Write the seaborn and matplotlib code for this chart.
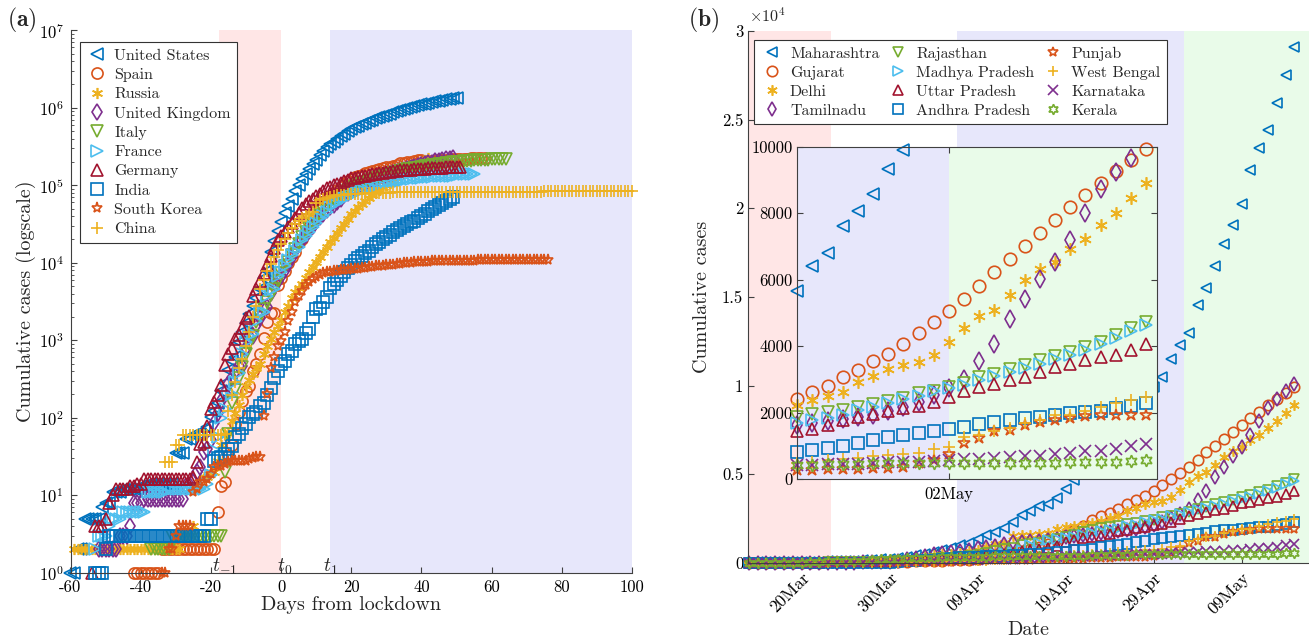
import matplotlib
matplotlib.use("Agg")
import matplotlib.pyplot as plt
import numpy as np
import pandas as pd
import seaborn as sns
from matplotlib.ticker import FuncFormatter, LogLocator, NullFormatter
import matplotlib.dates as mdates

# ---------------- panel (a): cumulative cases per country ----------------
countries = ["United States", "Spain", "Russia", "United Kingdom", "Italy",
             "France", "Germany", "India", "South Korea", "China"]
first_dates = ["2020-01-22", "2020-02-01", "2020-01-31", "2020-01-31", "2020-01-31",
               "2020-01-24", "2020-01-27", "2020-01-30", "2020-01-22", "2019-12-31"]
lockdown_dates = ["2020-03-22", "2020-03-14", "2020-03-30", "2020-03-23", "2020-03-08",
                  "2020-03-17", "2020-03-21", "2020-03-23", "2020-02-25", "2020-02-02"]

us_cases = [1, 1, 2, 2, 5, 5, 5, 5, 5, 7,
            8, 8, 11, 11, 11, 12, 12, 12, 12, 12, 13, 13, 14, 14, 14, 14, 14, 14, 14, 14,
            35, 35, 35, 53, 53, 59, 60, 62, 70,
            76, 101, 122, 153, 221, 278, 417, 537, 605, 959, 1281, 1663, 2179, 2727, 3499,
            4632, 6421, 7786, 13680, 19101, 25493, 33276, 43847, 53740, 65778, 83836,
            101657, 121465, 140909, 161831, 188172,
            213242, 243622, 275367, 308650, 336802, 366317, 397121, 428654, 462780, 496535,
            526396, 555313, 580619, 607670, 636350, 667592, 699706, 732197, 758809, 784326,
            811865, 840351, 869170, 905358, 938154, 965785, 988197, 1012582, 1039909, 1069424,
            1103461, 1132539, 1158040, 1180375, 1204351, 1229331, 1257023, 1283929, 1309550,
            1329260, 1347881]
spain_cases = [1, 1, 1, 1, 1, 1, 1, 1, 2, 2, 2, 2, 2, 2, 2, 2, 2, 2, 2, 2, 2, 2, 2, 2,
               6, 13, 15, 32, 45,
               84, 120, 165, 222, 259, 400, 500, 673, 1073, 1695, 2277, 2277, 5232, 6391,
               7798, 9942, 11748, 13910, 17963, 20410, 25374, 28768, 35136, 39885, 49515,
               57786, 65719, 73235, 80110, 87956, 95923,
               104118, 112065, 119199, 126168, 131646, 136675, 141942, 148220, 153222, 158273,
               163027, 166831, 170099, 172541, 177644, 184948, 190839, 191726, 198674, 200210,
               204178, 208389, 213024, 202990, 205905, 207634, 209465, 210773, 212917, 213435,
               215216, 216582, 217466, 218011, 219329, 220325, 221447, 222857, 223578, 224350,
               227436]
russia_cases = [2, 2, 2, 2, 2, 2, 2, 2, 2, 2, 2, 2, 2, 2, 2, 2, 2, 2, 2, 2, 2, 2, 2, 2, 2,
                2, 2, 2, 2, 2,
                2, 3, 3, 3, 4, 13, 13, 17, 17, 20, 20, 28, 45, 59, 63, 90, 114, 147, 199, 253,
                306, 367, 438, 495, 658, 840, 1036, 1264, 1534, 1836, 2337,
                2777, 3548, 4149, 4731, 5389, 6343, 7497, 8672, 10131, 11917, 13584, 15770,
                18328, 21102, 24490, 27938, 32008, 36793, 42853, 47121, 52763, 57999, 62773,
                68622, 74588, 80949, 87147, 93558, 99399, 106498,
                114431, 124054, 134687, 145268, 155370, 165929, 177160, 187859, 198676,
                209688, 221344]
uk_cases = [2,
            2, 2, 2, 2, 2, 3, 3, 3, 4, 8, 8, 8, 9, 9, 9, 9, 9, 9, 9, 9, 9, 9, 9, 9,
            13, 13, 15, 20, 23,
            36, 40, 51, 86, 116, 164, 207, 274, 322, 384, 459, 459, 802, 1144, 1145, 1551,
            1960, 2642, 2716, 4014, 5067, 5745, 6726, 8164, 9640, 11812, 14745, 17312, 19780,
            22453, 25481,
            29865, 34173, 38689, 42477, 48436, 52279, 55949, 61474, 65872, 74605, 79874,
            85206, 89570, 94845, 99483, 104145, 109769, 115314, 121172, 125856, 130172,
            134638, 139246, 144640, 149569, 154037, 158348, 162350, 166441, 172481,
            178685, 183500, 187842, 191832, 196243, 202359, 207977, 212629, 216525, 220449,
            224332]
italy_cases = [2,
               2, 2, 2, 2, 2, 3, 3, 3, 3, 3, 3, 3, 3, 3, 3, 3, 3, 3, 3, 3,
               20, 62, 155, 229, 322, 453, 655, 888, 1128,
               1694, 2036, 2502, 3089, 3858, 4636, 5883, 7375, 9172, 10149, 12462, 15113,
               17660, 21157, 24747, 27980, 31506, 35713, 41035, 47021, 53578, 59138, 63927,
               69176, 74386, 80589, 86498, 92472, 97689, 101739, 105792,
               110574, 115242, 119827, 124632, 128948, 132547, 135586, 139422, 143626, 147577,
               152271, 156363, 159516, 162488, 165155, 168941, 172434, 175925, 178972, 181228,
               183957, 187327, 189973, 192994, 195351, 197675, 199414, 201505, 203591, 205463,
               207428, 209328, 210717, 211938, 213013, 214457, 215858, 217185, 218268, 219070,
               219814]
france_cases = [2, 3, 3, 3, 4, 5, 5, 5,
                6, 6, 6, 6, 6, 6, 6, 11, 11, 11, 11, 11, 11, 12, 12, 12, 12, 12, 12, 12, 12,
                12, 12, 12, 14, 18, 38, 57, 100,
                130, 191, 204, 288, 380, 656, 957, 1134, 1217, 1792, 2289, 2289, 3672, 4480,
                4513, 6650, 7652, 9043, 10871, 12612, 14282, 16018, 19856, 22304, 25233, 29155,
                32964, 37575, 40174, 44550, 52128,
                56989, 59105, 64338, 68605, 70478, 74390, 78167, 82048, 86334, 90276, 93790,
                95403, 98076, 103573, 106206, 108847, 109252, 111821, 112606, 114657, 117324,
                119151, 120804, 122577, 124114, 124575, 125770, 126835, 128339, 129581,
                130185, 130979, 131287, 131863, 132967, 137150, 137779, 138421, 138854, 139063,
                139519]
germany_cases = [1, 4, 4, 4, 5,
                 8, 10, 12, 12, 12, 12, 13, 13, 14, 14, 16, 16, 16, 16, 16, 16, 16, 16, 16,
                 16, 16, 16, 16, 16, 17, 27, 46, 48, 79,
                 130, 159, 196, 262, 482, 670, 799, 1040, 1176, 1457, 1908, 2078, 3675, 4585,
                 5795, 7272, 9257, 12327, 15320, 19848, 22213, 24873, 29056, 32986, 37323,
                 43938, 50871, 57695, 62095, 66885, 71808,
                 77872, 84794, 91159, 96092, 100123, 103374, 107663, 113296, 118181, 122171,
                 124908, 127854, 130072, 131359, 134753, 137698, 141397, 143342, 145184, 147065,
                 148291, 150648, 153129, 154999, 156513, 157770, 158758, 159912, 161539, 163009,
                 164077, 164967, 165664, 166152, 167007, 168162, 169430, 170588, 171324, 171879,
                 172576]
india_cases = [1, 1,
               1, 2, 3, 3, 3, 3, 3, 3, 3, 3, 3, 3, 3, 3, 3, 3, 3, 3, 3, 3, 3, 3, 3, 3, 3, 3,
               3, 3, 3,
               3, 5, 5, 28, 30, 31, 34, 39, 43, 56, 62, 73, 82, 102, 113, 119, 142, 156, 194,
               244, 330, 396, 499, 536, 657, 727, 887, 987, 1024, 1251, 1397,
               1998, 2543, 2567, 3082, 3588, 4778, 5311, 5916, 6725, 7598, 8446, 9205, 10453,
               11487, 12322, 13430, 14352, 15722, 17615, 18539, 20080, 21370, 23077, 24530,
               26283, 27890, 29451, 31324, 33062, 34863,
               37257, 39699, 42505, 46437, 49400, 52987, 56351, 59695, 62808, 67161, 70768]
korea_cases = [1, 1, 2, 2, 3, 4, 4, 4, 4, 11,
               12, 15, 15, 16, 19, 23, 24, 24, 25, 27, 28, 28, 28, 28, 28, 29, 30, 31, 31,
               104, 204, 433, 602, 833, 977, 1261, 1766, 2337, 3150,
               3736, 4335, 5186, 5621, 6088, 6593, 7041, 7314, 7478, 7513, 7755, 7869, 7979,
               8086, 8162, 8236, 8320, 8413, 8565, 8652, 8799, 8897, 8961, 9037, 9137, 9241,
               9332, 9478, 9583, 9661, 9786,
               9887, 9976, 10062, 10156, 10237, 10284, 10331, 10384, 10423, 10450, 10480,
               10512, 10537, 10564, 10591, 10613, 10635, 10653, 10661, 10674, 10683, 10694,
               10702, 10708, 10718, 10728, 10738, 10752, 10761, 10765,
               10774, 10780, 10793, 10801, 10804, 10806, 10810, 10822, 10840, 10874, 10909]
china_cases = [27,
               27, 27, 44, 44, 59, 59, 59, 59, 59, 59, 59, 59, 59, 59, 59, 59,
               62, 121, 198, 291, 440, 571, 830, 1287, 1975, 2744, 4515, 5974, 7711, 9692, 11791,
               14380, 17205, 20438, 24324, 28018, 31161, 34546, 37198, 40171, 42638, 44653,
               59804, 63851, 66492, 68500, 70548, 72436, 74185, 74576, 75465, 76288, 76936,
               77150, 77658, 78064, 78497, 78824, 79251, 79824,
               80026, 80151, 80270, 80409, 80552, 80651, 80695, 80735, 80754, 80778, 80793,
               80813, 80824, 80844, 80860, 80881, 80894, 80928, 80967, 81008, 81054, 81093,
               81171, 81218, 81285, 81340, 81394, 81439, 81470, 81518, 81554,
               81589, 81620, 81639, 81669, 81708, 81740, 81802, 81865, 81907, 81953, 82052,
               82160, 82249, 82295, 82341, 82367, 83760, 83787, 83805, 83817, 83853, 83868,
               83884, 83899, 83909, 83912, 83918, 83940, 83944, 83956,
               83959, 83961, 83964, 83966, 83968, 83970, 83974, 83975, 83976, 83990, 84001, 84010]

# ---------------- panel (b): Indian states, daily from 14 Mar ----------------
states = ["Maharashtra", "Gujarat", "Delhi", "Tamilnadu", "Rajasthan", "Madhya Pradesh",
          "Uttar Pradesh", "Andhra Pradesh", "Punjab", "West Bengal", "Karnataka", "Kerala"]
state_start = "2020-03-14"

maharashtra = [26, 32, 39, 41, 45, 48, 52, 64, 74, 97, 107, 124, 130, 153, 186, 203, 220, 302,
               335, 423, 490, 635, 748, 868, 1018, 1135, 1364, 1574, 1761, 1982, 2334, 2687,
               2916, 3202, 3323, 3648, 4200, 4666, 5218, 5649, 6427, 6817, 7628, 8068, 8590,
               9318, 9915, 10498,
               11506, 12296, 12974, 14541, 15525, 16758, 17974, 19063, 20228, 22171, 23401,
               24427, 25922, 27524, 29100]
gujarat = [0, 0, 0, 0, 0, 2, 5, 14, 18, 29, 33, 38, 43, 47, 55, 58, 69, 73,
           82, 87, 95, 105, 128, 144, 165, 186, 241, 308, 432, 516, 578, 650, 766, 930, 1099,
           1376, 1604, 1851, 2066, 2407, 2624, 2815, 3071, 3301, 3548, 3774, 4082, 4395,
           4721, 5054, 5428, 5804, 6245, 6625, 7013, 7403, 7797, 8195, 8541, 8903, 9267, 9592,
           9931]
delhi = [7, 7, 7, 8, 10, 12, 17, 26, 29, 30, 31, 35, 36, 39, 40, 49, 87, 120,
         152, 293, 386, 445, 503, 523, 576, 669, 720, 903, 1069, 1154, 1510, 1561, 1578, 1640,
         1707, 1893, 2003, 2081, 2156, 2248, 2376, 2514, 2625, 2918, 3108, 3314, 3439, 3515,
         3738, 4122, 4549, 4898, 5104, 5532, 5980, 6318, 6542, 6923, 7233, 7639, 7998, 8470,
         8895]
tamilnadu = [1, 1, 1, 1, 1, 2, 3, 3, 7, 9, 15, 18, 26, 35, 40, 50, 67, 124,
             234, 309, 411, 485, 571, 621, 690, 738, 834, 911, 969, 1075, 1173, 1204, 1242,
             1267, 1323, 1372, 1477, 1520, 1596, 1629, 1683, 1755, 1821, 1885, 1937, 2058,
             2162, 2323,
             2526, 2757, 3023, 3550, 4058, 4829, 5409, 6009, 6535, 7204, 8002, 8718, 9227,
             9674, 10108]
rajasthan = [2, 4, 4, 4, 4, 7, 17, 17, 28, 32, 33, 36, 41, 54, 55, 59, 74, 93,
             120, 133, 167, 200, 274, 288, 328, 381, 463, 561, 700, 804, 873, 1005, 1076, 1131,
             1229, 1351, 1478, 1576, 1735, 1888, 1964, 2034, 2083, 2185, 2262, 2364, 2438, 2584,
             2666, 2772, 2886, 3061, 3158, 3317, 3427, 3579, 3708, 3814, 3988, 4126, 4328, 4534,
             4727]
madhya_pradesh = [0, 0, 0, 0, 0, 0, 4, 4, 6, 7, 7, 15, 20, 30, 33, 39, 47, 66,
                  98, 99, 104, 165, 229, 268, 290, 341, 411, 451, 532, 564, 604, 730, 987, 1120,
                  1310, 1355, 1407, 1485, 1552, 1695, 1790, 1852, 1945, 2096, 2168, 2300, 2400,
                  2500,
                  2640, 2760, 2850, 2990, 3100, 3220, 3340, 3480, 3620, 3750, 3900, 4060, 4250,
                  4450, 4650]
uttar_pradesh = [12, 13, 13, 15, 16, 19, 23, 24, 27, 31, 35, 37, 41, 45, 55, 65, 82, 103,
                 113, 172, 174, 227, 278, 305, 343, 361, 410, 433, 452, 483, 558, 660, 735, 805,
                 846, 974, 1176, 1294, 1412, 1449, 1510, 1621, 1778, 1868, 1955, 2053, 2134, 2211,
                 2328, 2487, 2645, 2766, 2880, 2998, 3071, 3214, 3373, 3467, 3573, 3664, 3729,
                 3902, 4057]
andhra_pradesh = [1, 1, 1, 1, 1, 2, 3, 3, 5, 7, 8, 10, 11, 13, 19, 21, 23, 44,
                  87, 132, 161, 192, 252, 303, 314, 348, 363, 381, 405, 420, 432, 473, 503, 534,
                  572, 603, 647, 722, 757, 813, 893, 955, 1016, 1097, 1177, 1259, 1332, 1403,
                  1463, 1525, 1583, 1650, 1717, 1777, 1833, 1887, 1930, 1980, 2018, 2051, 2137,
                  2205, 2307]
punjab = [1, 1, 1, 1, 1, 1, 2, 13, 21, 21, 29, 29, 33, 38, 38, 38, 41, 41,
          46, 48, 53, 57, 68, 79, 91, 101, 132, 151, 158, 167, 176, 186, 197, 202, 211, 219,
          244, 245, 251, 277, 283, 298, 313, 322, 330, 342, 376, 480,
          585, 772, 1102, 1232, 1451, 1494, 1644, 1731, 1797, 1848, 1898, 1919, 1924, 1932, 1935]
west_bengal = [0, 0, 0, 1, 1, 1, 2, 3, 4, 7, 9, 9, 10, 10, 15, 18, 22, 26,
               37, 53, 63, 69, 80, 91, 99, 103, 116, 134, 152, 190, 213, 231, 255, 287, 310, 339,
               392, 423, 456, 490, 514, 571, 611, 649, 697, 725, 758, 795,
               922, 963, 1259, 1344, 1456, 1548, 1678, 1786, 1939, 1939, 2063, 2173, 2290, 2377,
               2461]
karnataka = [6, 7, 10, 11, 11, 14, 15, 20, 26, 33, 37, 41, 51, 55, 64, 76, 83, 98,
             110, 124, 128, 144, 151, 163, 175, 181, 197, 207, 214, 232, 247, 258, 260, 279, 315,
             359, 384, 390, 408, 418, 427, 445, 463, 474, 503, 512, 523, 535,
             565, 589, 601, 614, 651, 673, 693, 705, 753, 794, 848, 862, 925, 987, 1056]
kerala = [19, 22, 24, 26, 27, 28, 28, 40, 67, 95, 105, 109, 118, 137, 176, 202, 215, 241,
          265, 286, 295, 306, 314, 327, 336, 345, 357, 364, 373, 375, 378, 379, 386, 388, 394,
          396, 399, 401, 408, 426, 437, 448, 457, 458, 481, 485, 486, 495,
          497, 499, 499, 500, 502, 503, 503, 505, 505, 512, 519, 524, 534, 560, 576]

# MATLAB-like default colour order and markers
matlab = ["#0072BD", "#D95319", "#EDB120", "#7E2F8E", "#77AC30", "#4DBEEE", "#A2142F"]
asterisk = (6, 2, 0)
hexagram = (6, 1, 0)
country_markers = ["<", "o", asterisk, "d", "v", ">", "^", "s", "*", "+"]
state_markers = ["<", "o", asterisk, "d", "v", ">", "^", "s", "*", "+", "x", hexagram]

sns.set_style("ticks")
plt.rcParams.update({
    "font.family": ["cmr10", "DejaVu Serif"],
    "mathtext.fontset": "cm",
    "axes.unicode_minus": False,
    "axes.edgecolor": "#404040",
    "axes.linewidth": 0.8,
    "xtick.direction": "in",
    "ytick.direction": "in",
    "xtick.color": "#404040",
    "ytick.color": "#404040",
    "xtick.labelcolor": "black",
    "ytick.labelcolor": "black",
    "xtick.major.size": 4,
    "ytick.major.size": 4,
    "ytick.minor.size": 2,
    "xtick.major.pad": 5,
    "xtick.labelsize": 12,
    "ytick.labelsize": 12,
})

PINK, LAVENDER, MINT = "#FFE6E6", "#E7E7FB", "#E9FBE9"


def hollow(ax, x, y, color, marker, ms, label=None):
    sns.lineplot(x=x, y=y, ax=ax, estimator=None, errorbar=None, sort=False, legend=False,
                 color=color, marker=marker, markersize=ms, markerfacecolor="none",
                 markeredgecolor=color, markeredgewidth=1.2, linestyle="",
                 label=label, clip_on=False)


fig = plt.figure(figsize=(13.09, 6.44), dpi=100)
W, H = 1309, 644

# ---------------- (a) ----------------
ax1 = fig.add_axes([70.5 / W, (H - 572.7) / H, 561.5 / W, 542.5 / H])
ax1.axvspan(-17.6, 0, color=PINK, lw=0, zorder=0)
ax1.axvspan(14, 100, color=LAVENDER, lw=0, zorder=0)

all_cases = [us_cases, spain_cases, russia_cases, uk_cases, italy_cases,
             france_cases, germany_cases, india_cases, korea_cases, china_cases]
for i, name in enumerate(countries):
    vals = all_cases[i]
    dates = pd.date_range(first_dates[i], periods=len(vals), freq="D")
    days = np.asarray((dates - pd.Timestamp(lockdown_dates[i])).days)
    hollow(ax1, days, vals, matlab[i % 7], country_markers[i], 8, label=name)

ax1.set_yscale("log")
ax1.set_ylim(1, 1e7)
ax1.set_xlim(-60, 100)
ax1.set_xticks(range(-60, 101, 20))
ax1.set_yticks([10.0 ** k for k in range(8)])
ax1.yaxis.set_minor_locator(LogLocator(base=10, subs=np.arange(2, 10), numticks=20))
ax1.yaxis.set_minor_formatter(NullFormatter())
ax1.tick_params(axis="y", pad=5)
sns.despine(ax=ax1)
ax1.set_xlabel("Days from lockdown", fontsize=14.5, labelpad=1)
ax1.set_ylabel("Cumulative cases (logscale)", fontsize=14.5, labelpad=2)
for xpos, lab in [(-16, r"$t_{-1}$"), (1, r"$t_0$"), (14, r"$t_1$")]:
    ax1.text(xpos, 1.03, lab, ha="center", va="baseline", fontsize=14)

leg1 = ax1.legend(loc="upper left", bbox_to_anchor=(0.017, 0.978), fontsize=11.5,
                  fancybox=False, framealpha=1, edgecolor="#333333", borderpad=0.4,
                  labelspacing=0.32, handlelength=1.3, handletextpad=0.45, borderaxespad=0)
leg1.get_frame().set_linewidth(0.8)

# ---------------- (b) ----------------
t0 = pd.Timestamp(state_start)
day = pd.Timedelta(days=1)
ax2 = fig.add_axes([748 / W, (H - 563) / H, (W - 748) / W, 532 / H])
ax2.axvspan(t0 - 0.1 * day, t0 + 9.3 * day, color=PINK, lw=0, zorder=0)
ax2.axvspan(t0 + 23.6 * day, t0 + 49.4 * day, color=LAVENDER, lw=0, zorder=0)
ax2.axvspan(t0 + 49.4 * day, t0 + 64 * day, color=MINT, lw=0, zorder=0)

all_states = [maharashtra, gujarat, delhi, tamilnadu, rajasthan, madhya_pradesh,
              uttar_pradesh, andhra_pradesh, punjab, west_bengal, karnataka, kerala]
for i, name in enumerate(states):
    vals = all_states[i]
    dates = pd.date_range(state_start, periods=len(vals), freq="D")
    hollow(ax2, dates, vals, matlab[i % 7], state_markers[i], 7.5, label=name)

ax2.set_xlim(t0 - 0.1 * day, t0 + 63.65 * day)
ax2.set_ylim(0, 30000)
ax2.set_yticks(np.arange(0, 30001, 5000))
ax2.yaxis.set_major_formatter(FuncFormatter(lambda v, p: f"{v / 1e4:g}"))
ax2.set_xticks(pd.to_datetime(["2020-03-20", "2020-03-30", "2020-04-09",
                               "2020-04-19", "2020-04-29", "2020-05-09"]))
ax2.xaxis.set_major_formatter(mdates.DateFormatter("%d%b"))
plt.setp(ax2.get_xticklabels(), rotation=45, ha="right", rotation_mode="anchor",
         fontsize=12.5)
sns.despine(ax=ax2)
ax2.set_xlabel("Date", fontsize=14.5, labelpad=3)
ax2.set_ylabel("Cumulative cases", fontsize=14.5, labelpad=8)
ax2.text(0.002, 1.012, r"$\times10^{4}$", transform=ax2.transAxes, ha="left",
         va="bottom", fontsize=11.5)

leg2 = ax2.legend(loc="upper left", bbox_to_anchor=(0.0107, 0.983), ncol=3, fontsize=11.5,
                  fancybox=False, framealpha=1, edgecolor="#333333", borderpad=0.4,
                  labelspacing=0.3, handlelength=1.4, handletextpad=0.45,
                  columnspacing=0.45, borderaxespad=0)
leg2.get_frame().set_linewidth(0.8)

# inset: zoom on 22 Apr - 15 May
i0 = pd.Timestamp("2020-04-22")
split = pd.Timestamp("2020-05-02")
ax3 = fig.add_axes([797.3 / W, (H - 479.3) / H, 359.4 / W, 332.6 / H])
ax3.axvspan(i0 - day, split, color=LAVENDER, lw=0, zorder=0)
ax3.axvspan(split, i0 + 25 * day, color=MINT, lw=0, zorder=0)
for i, name in enumerate(states):
    s = pd.Series(all_states[i], index=pd.date_range(state_start, periods=len(all_states[i])))
    s = s[(s.index >= i0) & (s <= 10000)]
    hollow(ax3, s.index, s.values, matlab[i % 7], state_markers[i], 9)
ax3.set_xlim(i0, i0 + 23.7 * day)
ax3.set_ylim(0, 10000)
ax3.set_yticks(np.arange(0, 10001, 2000))
ax3.set_xticks([split])
ax3.xaxis.set_major_formatter(mdates.DateFormatter("%d%b"))
ax3.tick_params(top=True, right=True)
ax3.set_xlabel("")
ax3.set_ylabel("")
for sp in ax3.spines.values():
    sp.set_visible(True)
    sp.set_color("#404040")

fig.text(22 / W, 1 - 20 / H, r"$\mathbf{(a)}$", ha="center", va="center", fontsize=17)
fig.text(704 / W, 1 - 20 / H, r"$\mathbf{(b)}$", ha="center", va="center", fontsize=17)

fig.savefig("out.png", dpi=100, facecolor="white")
